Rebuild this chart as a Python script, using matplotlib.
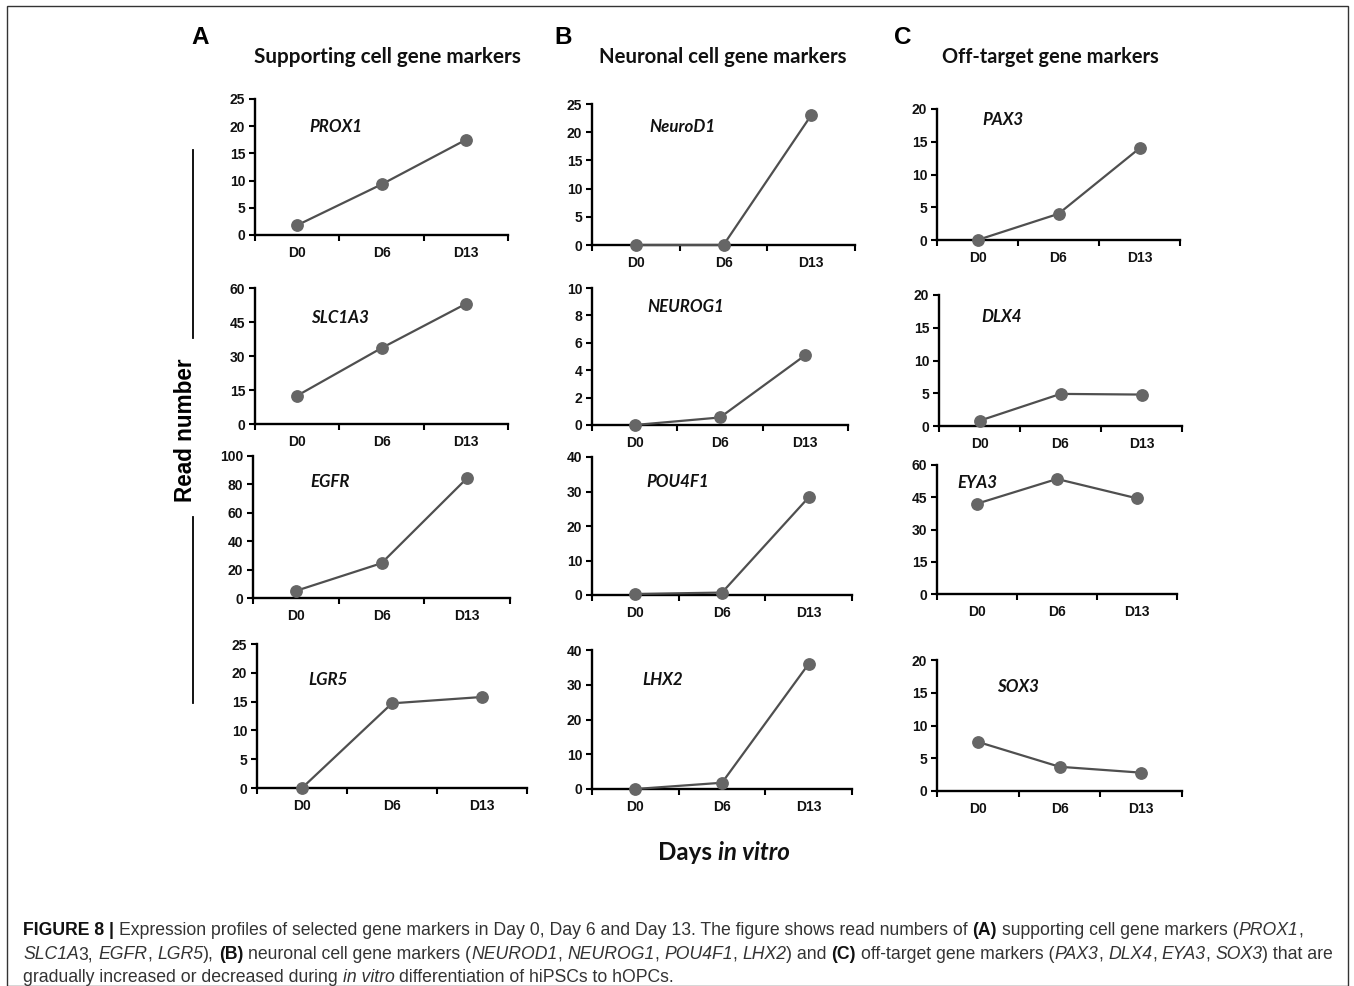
import matplotlib
matplotlib.use('Agg')
import matplotlib.pyplot as plt
from matplotlib.lines import Line2D
from matplotlib.patches import Rectangle

# ---------------- data ----------------
days = ['D0', 'D6', 'D13']

genes_A = ['PROX1', 'SLC1A3', 'EGFR', 'LGR5']
prox1 = [1.8, 9.3, 17.5]
slc1a3 = [12.5, 33.5, 53.0]
egfr = [5.0, 24.5, 84.5]
lgr5 = [0.0, 14.7, 15.8]

genes_B = ['NeuroD1', 'NEUROG1', 'POU4F1', 'LHX2']
neurod1 = [0.0, 0.0, 23.0]
neurog1 = [0.0, 0.55, 5.1]
pou4f1 = [0.3, 0.7, 28.3]
lhx2 = [0.0, 1.8, 36.0]

genes_C = ['PAX3', 'DLX4', 'EYA3', 'SOX3']
pax3 = [0.0, 4.0, 14.0]
dlx4 = [0.8, 4.9, 4.8]
eya3 = [42.0, 53.5, 44.5]
sox3 = [7.5, 3.7, 2.8]

ymax = [25, 60, 100, 25, 25, 10, 40, 40, 20, 20, 60, 20]
ystep = [5, 15, 20, 5, 5, 2, 10, 10, 5, 5, 15, 5]

col_titles = ['Supporting cell gene markers', 'Neuronal cell gene markers', 'Off-target gene markers']
panel_letters = ['A', 'B', 'C']

# ---------------- layout (pixels) ----------------
W, H = 1354, 986
fig = plt.figure(figsize=(W / 100, H / 100), dpi=100)
renderer = fig.canvas.get_renderer()

def fx(x):
    return x / W

def fy(y):
    return 1 - y / H

# (left, top, right, bottom)
boxes = [
    (255, 99, 508, 235), (255, 288, 508, 424), (253, 456, 510, 598), (257, 644, 527, 788),
    (592, 104, 855, 245), (592, 288, 848, 425), (592, 457, 852, 595), (592, 650, 852, 789),
    (937, 109, 1180, 240), (939, 295, 1182, 426), (937, 465, 1177, 594), (937, 660, 1182, 791),
]
label_pos = [
    (336, 127), (340, 318), (330, 482), (328, 680),
    (682, 127), (686, 307), (678, 482), (663, 680),
    (1003, 120), (1002, 317), (977, 483), (1018, 687),
]

genes = genes_A + genes_B + genes_C
series = [prox1, slc1a3, egfr, lgr5, neurod1, neurog1, pou4f1, lhx2, pax3, dlx4, eya3, sox3]

calibri_like = ['Lato', 'DejaVu Sans']
arial = ['Liberation Sans', 'DejaVu Sans']

for i, (g, vals) in enumerate(zip(genes, series)):
    l, t, r, b = boxes[i]
    ax = fig.add_axes([fx(l), fy(b), (r - l) / W, (b - t) / H])
    xs = list(range(len(days)))
    ax.plot(xs, vals, color='#4f4f4f', lw=1.6, marker='o', ms=8.2,
            mfc='#666666', mec='#666666', clip_on=False, zorder=3)
    ax.set_xlim(-0.5, len(days) - 0.5)
    ax.set_ylim(0, ymax[i])
    ax.set_yticks(list(range(0, ymax[i] + 1, ystep[i])))
    ax.set_xticks(xs)
    ax.set_xticklabels(days)
    ax.set_xticks([k + 0.5 for k in range(-1, len(days))], minor=True)
    for s in ['top', 'right']:
        ax.spines[s].set_visible(False)
    for s in ['left', 'bottom']:
        ax.spines[s].set_linewidth(1.7)
        ax.spines[s].set_color('black')
    ax.tick_params(axis='x', which='major', length=0, pad=8)
    ax.tick_params(axis='x', which='minor', length=4, width=1.5, direction='out')
    ax.tick_params(axis='y', length=4, width=1.5, direction='out', pad=3)
    for lab in ax.get_xticklabels() + ax.get_yticklabels():
        lab.set_fontfamily(arial)
        lab.set_fontweight('bold')
        lab.set_fontsize(10)
        lab.set_color('#111111')
    ax.patch.set_alpha(0)

# gene labels
gene_texts = []
for g, (x, y) in zip(genes, label_pos):
    t = fig.text(fx(x), fy(y), g, ha='center', va='center', family=calibri_like,
                 weight='bold', style='italic', fontsize=11, color='#111111')
    gene_texts.append(t)
bb = gene_texts[0].get_window_extent(renderer)
gsize = 11 * 53 / bb.width
for t in gene_texts:
    t.set_fontsize(gsize)

# column titles
title_spec = [(387, 57, 268), (723, 57, 250), (1050, 57, 218)]
for txt, (x, y, w) in zip(col_titles, title_spec):
    t = fig.text(fx(x), fy(y), txt, ha='center', va='center', family=calibri_like,
                 weight='bold', fontsize=14, color='#111111')
    bb = t.get_window_extent(renderer)
    t.set_fontsize(14 * w / bb.width)

# panel letters
for L, x in zip(panel_letters, [200, 563, 903]):
    fig.text(fx(x), fy(37), L, ha='center', va='center', family=arial,
             weight='bold', fontsize=17.5, color='black')

# Read number
t = fig.text(fx(185), fy(430), 'Read number', rotation=90, ha='center', va='center',
             family=arial, weight='bold', fontsize=16, color='black')
bb = t.get_window_extent(renderer)
t.set_fontsize(16 * 144 / bb.height)
fig.add_artist(Line2D([fx(193), fx(193)], [fy(150), fy(338)], color='black', lw=1.3))
fig.add_artist(Line2D([fx(193), fx(193)], [fy(517), fy(703)], color='black', lw=1.3))

def width_px(text, **kw):
    tt = fig.text(0, 0, text, **kw)
    w = tt.get_window_extent(renderer).width
    tt.remove()
    return w

# Days in vitro
kw_d = dict(family=calibri_like, weight='bold', fontsize=15)
w1 = width_px('Days', **kw_d)
sp = width_px('a a', **kw_d) - width_px('aa', **kw_d)
w2 = width_px('in vitro', style='italic', **kw_d)
scale = 132 / (w1 + sp + w2)
dsize = 15 * scale
x0 = 724 - 66
fig.text(fx(x0), fy(853), 'Days', ha='left', va='center', family=calibri_like,
         weight='bold', fontsize=dsize, color='#111111')
fig.text(fx(x0 + (w1 + sp) * scale), fy(853), 'in vitro', ha='left', va='center',
         family=calibri_like, weight='bold', style='italic', fontsize=dsize, color='#111111')

# ---------------- caption ----------------
cap_font = ['Liberation Sans', 'DejaVu Sans']
N, B, I = 'n', 'b', 'i'
cap_lines = [
    [("FIGURE 8 | ", B), ("Expression profiles of selected gene markers in Day 0, Day 6 and Day 13. The figure shows read numbers of ", N),
     ("(A)", B), (" supporting cell gene markers (", N), ("PROX1", I), (",", N)],
    [("SLC1A", I), ("3, ", N), ("EGFR", I), (", ", N), ("LGR5", I), ("), ", N), ("(B)", B),
     (" neuronal cell gene markers (", N), ("NEUROD1", I), (", ", N), ("NEUROG1", I), (", ", N),
     ("POU4F1", I), (", ", N), ("LHX2", I), (") and ", N), ("(C)", B), (" off-target gene markers (", N),
     ("PAX3", I), (", ", N), ("DLX4", I), (", ", N), ("EYA3", I), (", ", N), ("SOX3", I), (") that are", N)],
    [("gradually increased or decreased during ", N), ("in vitro", I), (" differentiation of hiPSCs to hOPCs.", N)],
]
cap_baseline = [935, 959, 982]
cap_right = [1328, 1335, 1400]

def props(kind, size):
    d = dict(family=cap_font, fontsize=size, color='#333333')
    if kind == B:
        d['weight'] = 'bold'
        d['color'] = '#111111'
    if kind == I:
        d['style'] = 'italic'
    return d

def split(txt):
    core = txt.strip(' ')
    lead = len(txt) - len(txt.lstrip(' '))
    trail = len(txt) - len(txt.rstrip(' '))
    return lead, core, trail

def line_width(runs, size):
    tot = 0
    for txt, kind in runs:
        p = props(kind, size)
        sp = width_px('a a', **p) - width_px('aa', **p)
        lead, core, trail = split(txt)
        tot += (lead + trail) * sp
        if core:
            tot += width_px(core, **p)
    return tot

base = 12
csize = min(base * (cap_right[k] - 23) / line_width(cap_lines[k], base) for k in range(2))

for runs, y in zip(cap_lines, cap_baseline):
    x = 23
    for txt, kind in runs:
        p = props(kind, csize)
        sp = width_px('a a', **p) - width_px('aa', **p)
        lead, core, trail = split(txt)
        x += lead * sp
        if core:
            tt = fig.text(fx(x), fy(y), core, ha='left', va='baseline', **p)
            x += tt.get_window_extent(renderer).width
        x += trail * sp

# border
fig.add_artist(Rectangle((fx(7), 0), (1348 - 7) / W, fy(6), fill=False,
                         edgecolor='#333333', lw=1.0, transform=fig.transFigure))

fig.savefig('out.png', dpi=100)
